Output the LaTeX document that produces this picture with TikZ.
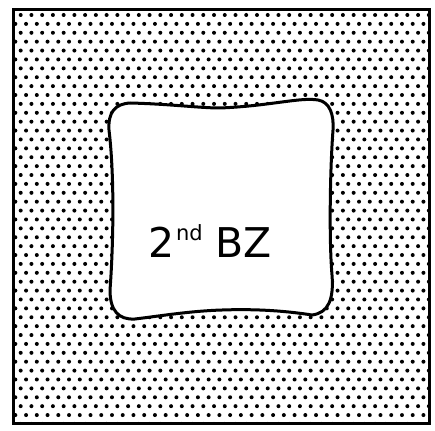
\documentclass[tikz,border=0pt]{standalone}
\usepackage{fontspec}
\setmainfont{DejaVu Sans}
\begin{document}
\begin{tikzpicture}[x=1pt,y=-1pt,
  frame/.style={draw=black,line width=2.8pt},
  zone/.style={draw=black,line width=3pt,fill=white,line join=round},
  dotfill/.style={fill=black}]
\useasboundingbox[fill=white] (0,0) rectangle (435,430);
% dotted background clipped to the outer square
\begin{scope}
  \clip (12,8) rectangle (428,422);
  \foreach \r in {0,...,46}{
    \pgfmathsetmacro{\yy}{15+\r*8.89}
    \pgfmathsetmacro{\off}{mod(\r,2)*5.37}
    \foreach \c in {-1,...,39}{
      \pgfmathsetmacro{\xx}{20.7-\off+\c*10.74}
      \fill[dotfill] (\xx,\yy) circle (2.0);
    }
  }
\end{scope}
\node[frame,minimum width=416pt,minimum height=414pt,inner sep=0pt,anchor=north west] (outer) at (12,8) {};
% inner zone
\draw[zone] (220,108)
  .. controls (270,106) and (300,97) .. (318,100)
  .. controls (330,102) and (334,115) .. (333,130)
  .. controls (330,170) and (329,240) .. (332,275)
  .. controls (334,300) and (328,313) .. (312,315)
  .. controls (280,310) and (250,309) .. (222,310)
  .. controls (190,311) and (160,316) .. (135,319)
  .. controls (118,320) and (110,310) .. (110,290)
  .. controls (113,250) and (115,180) .. (109,130)
  .. controls (108,112) and (115,104) .. (130,103)
  .. controls (170,104) and (200,108) .. (220,108) -- cycle;
\node[anchor=base,inner sep=0pt] (label) at (210,257)
  {\fontsize{41}{41}\selectfont 2\kern2pt\raisebox{17pt}{\fontsize{21}{21}\selectfont nd} BZ};
\end{tikzpicture}
\end{document}
